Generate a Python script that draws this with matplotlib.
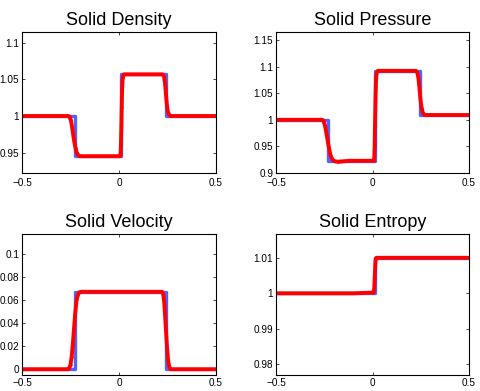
import matplotlib
matplotlib.use("Agg")
import matplotlib.pyplot as plt

plt.rcParams['font.family'] = ['Liberation Sans', 'DejaVu Sans']

# === Exact solution (piecewise constant, blue) ===
dens_x = [-0.5, -0.229, -0.229, 0.012, 0.012, 0.243, 0.243, 0.5]
dens_y = [1.0, 1.0, 0.945, 0.945, 1.057, 1.057, 1.0, 1.0]

pres_x = [-0.5, -0.229, -0.229, 0.013, 0.013, 0.245, 0.245, 0.5]
pres_y = [1.0, 1.0, 0.923, 0.923, 1.092, 1.092, 1.009, 1.009]

vel_x = [-0.5, -0.228, -0.228, 0.243, 0.243, 0.5]
vel_y = [0.0, 0.0, 0.067, 0.067, 0.0, 0.0]

ent_x = [-0.5, 0.013, 0.013, 0.5]
ent_y = [1.0, 1.0, 1.01, 1.01]

# === Numerical solution (red dots) ===
dens_num_x = [-0.5, -0.26, -0.255, -0.248, -0.242, -0.236, -0.23, -0.224, -0.218,
              -0.212, -0.205, -0.198, 0.005, 0.008, 0.01, 0.012, 0.014, 0.016,
              0.019, 0.025, 0.225, 0.232, 0.237, 0.242, 0.247, 0.252, 0.258,
              0.265, 0.5]
dens_num_y = [1.0, 1.0, 0.999, 0.994, 0.985, 0.974, 0.964, 0.956, 0.95,
              0.947, 0.9455, 0.945, 0.945, 0.948, 0.962, 0.985, 1.012, 1.036,
              1.052, 1.057, 1.057, 1.054, 1.045, 1.03, 1.015, 1.006, 1.002,
              1.0, 1.0]

pres_num_x = [-0.5, -0.26, -0.254, -0.247, -0.24, -0.233, -0.226, -0.219, -0.212,
              -0.204, -0.195, -0.18, -0.15, -0.12, 0.006, 0.009, 0.011, 0.013,
              0.015, 0.017, 0.02, 0.027, 0.225, 0.232, 0.238, 0.243, 0.248,
              0.254, 0.261, 0.27, 0.5]
pres_num_y = [1.0, 1.0, 0.998, 0.99, 0.977, 0.962, 0.948, 0.936, 0.928,
              0.924, 0.922, 0.921, 0.922, 0.923, 0.923, 0.927, 0.95, 0.99,
              1.03, 1.062, 1.085, 1.092, 1.092, 1.089, 1.078, 1.06, 1.04,
              1.023, 1.013, 1.009, 1.009]

vel_num_x = [-0.5, -0.262, -0.256, -0.25, -0.244, -0.238, -0.232, -0.226, -0.22,
             -0.213, -0.205, -0.195, 0.222, 0.228, 0.233, 0.238, 0.243, 0.248,
             0.253, 0.258, 0.265, 0.5]
vel_num_y = [0.0, 0.0, 0.001, 0.004, 0.011, 0.022, 0.035, 0.048, 0.058,
             0.064, 0.0665, 0.067, 0.067, 0.065, 0.058, 0.045, 0.031, 0.018,
             0.008, 0.003, 0.0, 0.0]

ent_num_x = [-0.5, -0.1, 0.0, 0.006, 0.009, 0.011, 0.013, 0.015, 0.017, 0.02, 0.5]
ent_num_y = [1.0, 1.0, 1.0002, 1.0004, 1.0015, 1.004, 1.0065, 1.0088, 1.0098, 1.01, 1.01]

titles = ['Solid Density', 'Solid Pressure', 'Solid Velocity', 'Solid Entropy']
ylims = [(0.922, 1.115), (0.9, 1.165), (-0.005, 0.117), (0.977, 1.0167)]
yticks = [[0.95, 1, 1.05, 1.1],
          [0.9, 0.95, 1, 1.05, 1.1, 1.15],
          [0, 0.02, 0.04, 0.06, 0.08, 0.1],
          [0.98, 0.99, 1, 1.01]]
ytick_labels = [['0.95', '1', '1.05', '1.1'],
                ['0.9', '0.95', '1', '1.05', '1.1', '1.15'],
                ['0', '0.02', '0.04', '0.06', '0.08', '0.1'],
                ['0.98', '0.99', '1', '1.01']]

exact = [(dens_x, dens_y), (pres_x, pres_y), (vel_x, vel_y), (ent_x, ent_y)]
numer = [(dens_num_x, dens_num_y), (pres_num_x, pres_num_y),
         (vel_num_x, vel_num_y), (ent_num_x, ent_num_y)]

W, H = 481, 391
boxes = [(22, 32, 216, 173), (276, 32, 469, 173),
         (22, 234, 216, 375), (276, 234, 469, 375)]

fig = plt.figure(figsize=(W / 100, H / 100), dpi=100)

for i in range(4):
    l, t, r, b = boxes[i]
    ax = fig.add_axes([l / W, (H - b) / H, (r - l) / W, (b - t) / H])
    ex, ey = exact[i]
    nx, ny = numer[i]
    ax.plot(ex, ey, color='#3346ff', lw=2.4, alpha=0.85)
    ax.plot(nx, ny, color='red', lw=2.8)
    ax.plot(nx, ny, '.', color='red', ms=3.5, mew=0)
    ax.set_xlim(-0.5, 0.5)
    ax.set_ylim(*ylims[i])
    ax.set_xticks([-0.5, 0, 0.5])
    ax.set_xticklabels(['\u22120.5', '0', '0.5'])
    ax.set_yticks(yticks[i])
    ax.set_yticklabels(ytick_labels[i])
    ax.tick_params(direction='in', length=2.5, width=0.5, labelsize=7.2,
                   top=True, right=True, pad=2)
    ax.tick_params(axis='x', pad=3.5 if i < 2 else 2.5)
    for s in ax.spines.values():
        s.set_linewidth(0.8)
    ax.set_title(titles[i], fontsize=13, pad=5)

plt.savefig('out.png', dpi=100)
